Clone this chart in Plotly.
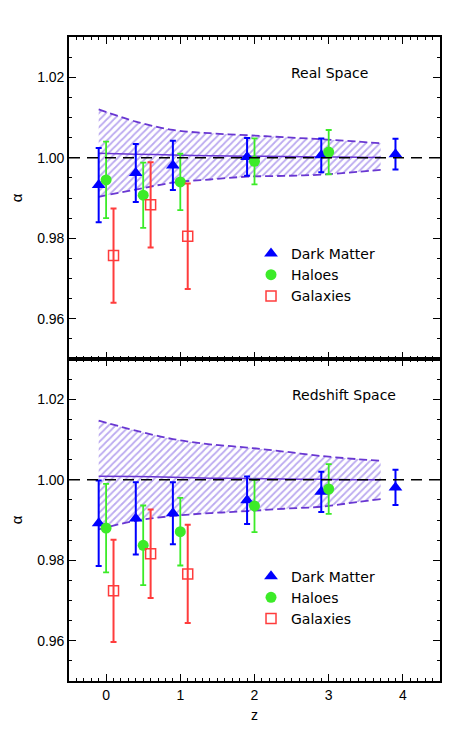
import plotly.graph_objects as go
from plotly.subplots import make_subplots

# ---------------- data ----------------
z_dm = [-0.1, 0.4, 0.9, 1.9, 2.9, 3.9]
z_halo = [0.0, 0.5, 1.0, 2.0, 3.0]
z_gal = [0.1, 0.6, 1.1]

# Real space
dm_real = [0.9932, 0.9962, 0.9981, 1.0002, 1.0006, 1.0009]
dm_real_err = [0.0092, 0.0072, 0.0061, 0.0047, 0.0042, 0.0038]
halo_real = [0.9945, 0.9907, 0.9940, 0.9991, 1.0014]
halo_real_err = [0.0095, 0.0081, 0.0070, 0.0057, 0.0055]
gal_real = [0.9757, 0.9883, 0.9805]
gal_real_err = [0.0117, 0.0106, 0.0131]

# Redshift space
dm_red = [0.9892, 0.9904, 0.9917, 0.9949, 0.9970, 0.9981]
dm_red_err = [0.0106, 0.0090, 0.0077, 0.0059, 0.0050, 0.0044]
halo_red = [0.9880, 0.9837, 0.9871, 0.9935, 0.9977]
halo_red_err = [0.0110, 0.0099, 0.0084, 0.0065, 0.0062]
gal_red = [0.9724, 0.9816, 0.9766]
gal_red_err = [0.0127, 0.0110, 0.0122]

# Prediction bands
z_band = [-0.1, 0.4, 0.9, 1.4, 1.9, 2.4, 2.9, 3.4, 3.7]
band_real_up = [1.0120, 1.0090, 1.0069, 1.0061, 1.0056, 1.0051, 1.0046, 1.0040, 1.0036]
band_real_lo = [0.9903, 0.9921, 0.9938, 0.9946, 0.9953, 0.9955, 0.9958, 0.9965, 0.9970]
band_real_mid = [1.0011, 1.0009, 1.0007, 1.0005, 1.0004, 1.0003, 1.0002, 1.0001, 1.0001]
band_red_up = [1.0147, 1.0122, 1.0101, 1.0088, 1.0080, 1.0070, 1.0059, 1.0051, 1.0047]
band_red_lo = [0.9877, 0.9898, 0.9910, 0.9917, 0.9922, 0.9928, 0.9933, 0.9945, 0.9952]
band_red_mid = [1.0009, 1.0008, 1.0006, 1.0004, 1.0003, 1.0002, 1.0001, 1.0000, 1.0000]

y_ticks = [0.96, 0.98, 1.00, 1.02]
y_tick_text = ["0.96", "0.98", "1.00", "1.02"]
x_ticks = [0, 1, 2, 3, 4]
x_tick_text = ["0", "1", "2", "3", "4"]

# ---------------- style ----------------
BLUE = "rgb(0,0,255)"
GREEN = "rgb(60,235,40)"
RED = "rgb(255,60,60)"
PURPLE = "rgb(105,55,210)"
HATCH = "rgb(120,85,225)"
TXT = "DejaVu Sans"
TICKFONT = dict(family="Liberation Sans, Arial", size=14, color="black")

fig = make_subplots(rows=2, cols=1, shared_xaxes=True, vertical_spacing=0)

panels = [
    (1, band_real_lo, band_real_up, band_real_mid, dm_real, dm_real_err,
     halo_real, halo_real_err, gal_real, gal_real_err, "legend"),
    (2, band_red_lo, band_red_up, band_red_mid, dm_red, dm_red_err,
     halo_red, halo_red_err, gal_red, gal_red_err, "legend2"),
]

for (row, lo, up, mid, dm, dme, ha, hae, ga, gae, leg) in panels:
    fig.add_trace(go.Scatter(x=z_band, y=lo, mode="lines", line_shape="spline",
                             line=dict(color=PURPLE, width=1.8, dash="8px,4px"),
                             showlegend=False, hoverinfo="skip"), row=row, col=1)
    fig.add_trace(go.Scatter(x=z_band, y=up, mode="lines", line_shape="spline",
                             line=dict(color=PURPLE, width=1.8, dash="8px,4px"),
                             fill="tonexty", fillcolor="rgba(0,0,0,0)",
                             fillpattern=dict(shape="/", fgcolor=HATCH,
                                              bgcolor="rgba(0,0,0,0)",
                                              size=5, solidity=0.35),
                             showlegend=False, hoverinfo="skip"), row=row, col=1)
    fig.add_trace(go.Scatter(x=z_band, y=mid, mode="lines", line_shape="spline",
                             line=dict(color=PURPLE, width=1.5),
                             showlegend=False, hoverinfo="skip"), row=row, col=1)
    fig.add_hline(y=1.0, line=dict(color="black", width=1.3, dash="11px,7px"),
                  row=row, col=1)
    fig.add_trace(go.Scatter(x=z_dm, y=dm, mode="markers", name="Dark Matter",
                             marker=dict(symbol="triangle-up", size=12, color=BLUE),
                             error_y=dict(type="data", array=dme, color=BLUE,
                                          thickness=2, width=3),
                             legend=leg), row=row, col=1)
    fig.add_trace(go.Scatter(x=z_halo, y=ha, mode="markers", name="Haloes",
                             marker=dict(symbol="circle", size=11, color=GREEN),
                             error_y=dict(type="data", array=hae, color=GREEN,
                                          thickness=1.8, width=3),
                             legend=leg), row=row, col=1)
    fig.add_trace(go.Scatter(x=z_gal, y=ga, mode="markers", name="Galaxies",
                             marker=dict(symbol="square-open", size=10, color=RED,
                                         line=dict(width=1.5, color=RED)),
                             error_y=dict(type="data", array=gae, color=RED,
                                          thickness=2, width=3),
                             legend=leg), row=row, col=1)

axis_common = dict(showline=True, linecolor="black", linewidth=1.6, mirror="allticks",
                   ticks="inside", ticklen=7, tickwidth=1.3, tickcolor="black",
                   showgrid=False, zeroline=False, tickfont=TICKFONT, automargin=False)

for r in (1, 2):
    fig.update_yaxes(range=[0.95, 1.03], tickvals=y_ticks, ticktext=y_tick_text,
                     minor=dict(dtick=0.005, ticks="inside", ticklen=3.5,
                                tickcolor="black", tickwidth=1.1, showgrid=False),
                     title=dict(text="α", font=dict(family="Liberation Sans", size=15,
                                                    color="black"), standoff=15),
                     row=r, col=1, **axis_common)
    fig.update_xaxes(range=[-0.5, 4.5], tickvals=x_ticks, ticktext=x_tick_text,
                     minor=dict(dtick=0.1, tick0=0, ticks="inside", ticklen=3.5,
                                tickcolor="black", tickwidth=1.1, showgrid=False),
                     row=r, col=1, **axis_common)
fig.update_xaxes(showticklabels=False, row=1, col=1)
fig.update_xaxes(title=dict(text="z", font=dict(family="Liberation Sans", size=14,
                                                color="black"), standoff=9),
                 row=2, col=1)

legend_style = dict(font=dict(family=TXT, size=14, color="black"),
                    bgcolor="rgba(0,0,0,0)", borderwidth=0, traceorder="normal",
                    xanchor="left", yanchor="top", tracegroupgap=0)
fig.update_layout(
    legend=dict(x=0.4906, y=0.688, **legend_style),
    legend2=dict(x=0.4906, y=0.187, **legend_style),
)

fig.add_annotation(text="Real Space", xref="paper", yref="paper", x=0.7035, y=0.9446,
                   xanchor="center", yanchor="middle",
                   showarrow=False, font=dict(family=TXT, size=14, color="black"))
fig.add_annotation(text="Redshift Space", xref="paper", yref="paper", x=0.7412, y=0.4441,
                   xanchor="center", yanchor="middle",
                   showarrow=False, font=dict(family=TXT, size=14, color="black"))

# page body has an 8px default margin, so the figure is sized to fit inside it
fig.update_layout(width=447, height=725, autosize=False,
                  margin=dict(l=61, r=15, t=29, b=52),
                  paper_bgcolor="white", plot_bgcolor="white")

fig.write_html("out.html")
